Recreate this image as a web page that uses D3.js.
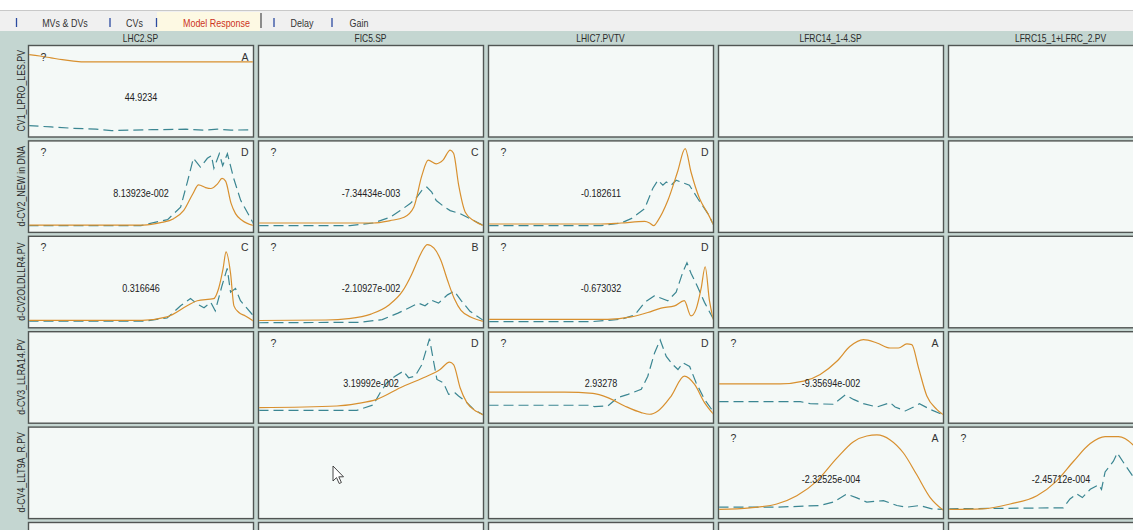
<!DOCTYPE html>
<html>
<head>
<meta charset="utf-8">
<script src="https://cdn.jsdelivr.net/npm/d3@7"></script>
<style>
  html, body { margin: 0; padding: 0; background: #ffffff; overflow: hidden; }
  svg { display: block; }
  text { font-family: "Liberation Sans", Arial, sans-serif; }
</style>
</head>
<body>
<svg id="chart" width="1133" height="530"></svg>
<script>
// ---------------- data ----------------
const tabLabels = ["MVs & DVs", "CVs", "Model Response", "Delay", "Gain"];
const colLabels = ["LHC2.SP", "FIC5.SP", "LHIC7.PVTV", "LFRC14_1-4.SP", "LFRC15_1+LFRC_2.PV"];
const rowLabels = ["CV1_LPRO_LES.PV", "d-CV2_NEW in DNA", "d-CV2OLDLLR4.PV", "d-CV3_LLRA14.PV", "d-CV4_LLT9A_R.PV", ""];

const cellRows   = [0, 1, 1, 1, 2, 2, 2, 3, 3, 3, 4, 4];
const cellCols   = [0, 0, 1, 2, 0, 1, 2, 1, 2, 3, 3, 4];
const cellValues = ["44.9234", "8.13923e-002", "-7.34434e-003", "-0.182611",
                    "0.316646", "-2.10927e-002", "-0.673032",
                    "3.19992e-002", "2.93278", "-9.35694e-002",
                    "-2.32525e-004", "-2.45712e-004"];
const cellGrades = ["A", "D", "C", "D", "C", "B", "D", "D", "D", "A", "A", ""];

// series: [time % of horizon, response % of plot range]
const orange_r1c1 = [[0,90],[5,88.5],[10,86.5],[15,84.5],[20,83],[25,82],[100,82]];
const teal_r1c1   = [[0,12.5],[10,11],[20,9.5],[30,8.5],[37,7],[45,7.5],[55,8],[70,8.5],[78,7.5],[84,8.5],[90,7.5],[100,8]];

const orange_r2c1 = [[0,8],[51,8],[58.7,10.6],[64.5,15],[69,24],[73,42],[75.6,52],[78.7,49],[81,48],[84,53],[86,59],[87.6,56],[90,32],[92,20.5],[95,13],[100,7.5]];
const teal_r2c1   = [[0,7.5],[50,7.5],[55.6,10.7],[61.8,14],[67.6,27.5],[70.6,55],[73.3,81],[76.4,71.4],[79.5,81],[81.3,84],[82.4,70],[84.8,86],[86.3,73],[88.4,86],[91.2,59],[94.3,35],[100,9.6]];

const orange_r2c2 = [[0,10.3],[51,10.3],[58.5,12.9],[64.7,16.5],[69,27.5],[72.6,62],[75.4,79],[79,75],[82,79],[85.2,90],[86.7,86.5],[89,51],[91.9,22],[95.6,12.9],[100,7.4]];
const teal_r2c2   = [[0,7.4],[40.7,7.4],[51,10.3],[58.5,16.5],[63,23.8],[67.4,31.5],[70.4,38.5],[72.6,45.8],[74.8,49.5],[77,44],[79,34.8],[82,29],[85.2,23.8],[89.6,20.5],[94,15],[100,7.4]];

const orange_r2c3 = [[0,9.2],[50,9.2],[59,10.3],[69.4,12],[71.6,10.3],[73.5,7.4],[75.3,12.9],[79.7,34.8],[84,66],[87.4,91.6],[90,66],[93.8,37],[97.5,20.5],[100,8.4]];
const teal_r2c3   = [[0,7.4],[50,7.4],[59,10.3],[63.4,15],[69.4,26],[73,48],[75.3,57],[77.5,51.6],[79,55],[81.2,51.6],[83.4,57],[85.6,55],[89.3,51.6],[93,37],[97.5,20.5],[100,8.4]];

const orange_r3c1 = [[0,8.2],[50.5,8.2],[61.6,11.9],[70.5,24],[75,29.6],[82.3,31.8],[84.5,43],[86.5,65],[87.8,83],[89.8,59.6],[91.3,24],[93.5,16.7],[96.4,13],[100,7.4]];
const teal_r3c1   = [[0,7.4],[51.8,7.4],[61.6,10.7],[67.6,24],[72,32],[75,26],[78,22],[81,27.8],[83,18.5],[86,46],[88.3,65],[89.8,39],[92,43],[94.2,29.6],[100,13]];

const orange_r3c2 = [[0,8],[30,8.5],[40,10],[50,15],[58,25],[64,40],[68,58],[71,75],[73,85],[75,91],[78,87],[81,74],[84,52],[87,32],[90,19],[95,11],[100,7]];
const teal_r3c2   = [[0,5.5],[45,6],[55,9],[62,16],[67,22],[71,27],[74,24],[77,30],[80,27],[84,36],[87,40],[90,30],[94,18],[100,8]];

const orange_r3c3 = [[0,9.3],[53,9.3],[63.4,11.9],[70.8,16.7],[76.7,21.5],[82.7,24],[87,29.6],[90,13],[92.3,20.7],[94.5,43],[96.3,66.7],[98.2,29.6],[100,8.5]];
const teal_r3c3   = [[0,6.7],[45.6,6.7],[59,9.3],[65,14],[69.4,27.8],[73.8,35],[79.7,29.6],[83.4,39],[86.4,61],[88.2,71],[90,59.6],[93,44.4],[96,27.8],[100,9.3]];

const orange_r4c2 = [[0,17],[34.8,18.8],[43.7,21.4],[52.6,26],[63,38.8],[73.3,49.7],[80.7,58.7],[84.9,66.7],[86.7,64],[89.6,38.8],[92.6,22.5],[97,12.7],[100,9]];
const teal_r4c2   = [[0,14],[43.7,14],[51,20],[54,33],[57,44],[60.7,51.4],[64.4,56.9],[66.7,49.7],[69.6,51.4],[72.6,64],[76,92.4],[77.8,67.7],[79.3,47.8],[82.2,44],[84.5,31.5],[87.4,33],[88.9,29.7],[91.9,24.2],[95.6,15.2],[100,9]];

const orange_r4c3 = [[0,34],[33.8,34],[46.4,32.6],[53,28],[60.5,18.8],[67.9,11.6],[71.6,9.8],[75.3,13.4],[81.2,29.7],[87,51.4],[91.6,42.4],[96,22.5],[100,9.8]];
const teal_r4c3   = [[0,19.6],[45.6,19.6],[47,18.1],[53,18.8],[57.5,28],[62,31.5],[67.9,37],[70.8,51.4],[73.8,76.8],[76.3,91],[79,73],[81.9,64],[84.2,58.7],[86.4,66],[89.4,62],[92.3,44],[96,26],[100,12.3]];

const orange_r4c4 = [[0,43],[27.4,43],[37.8,46],[45.2,53.3],[52.6,67.7],[58.5,84],[64.4,91.3],[70.4,87.7],[76.3,82.2],[80,82.2],[83.7,86.6],[85.9,85.9],[88.9,60.5],[92.6,29.7],[97,15.2],[100,9]];
const teal_r4c4   = [[0,23.6],[36.3,23.6],[40.7,21.4],[51,20.7],[56.3,30.8],[60,26],[64.4,21.4],[70.4,17.7],[76.3,22.5],[78.5,17.7],[83,13.4],[86.7,17.7],[89.3,21.4],[94,15.2],[100,9]];

const orange_r5c4 = [[0,10],[14,11.8],[25.9,16],[34.8,25],[43.7,41],[52.6,66],[60,84],[65.9,90.3],[70.4,91.4],[76.3,86],[82.2,71.7],[88,48.4],[94,23.3],[100,9]];
const teal_r5c4   = [[0,12.5],[25.9,12.5],[45.2,14.3],[51,18],[57,26.9],[61.5,22.6],[65.9,18],[73.3,19.7],[79.3,14.3],[83.7,12.5],[89.6,14.3],[94.8,10.7],[100,10]];

const orange_r5c5 = [[0,10],[15,10.7],[27.4,16],[39.3,25],[48,41],[55.6,62.7],[63,82],[69.6,89.6],[75.5,89.6],[82,80.6],[88,60],[94,28],[100,10]];
const teal_r5c5   = [[0,10.7],[51,11.8],[54,21.5],[57,27],[59.5,23],[63,32],[66.7,37],[68,32],[69.6,51],[73.3,62.7],[75,71.7],[78.4,59],[82,46],[90,25],[100,10]];

const modelSeries = [orange_r1c1, orange_r2c1, orange_r2c2, orange_r2c3, orange_r3c1, orange_r3c2, orange_r3c3, orange_r4c2, orange_r4c3, orange_r4c4, orange_r5c4, orange_r5c5];
const fitSeries   = [teal_r1c1, teal_r2c1, teal_r2c2, teal_r2c3, teal_r3c1, teal_r3c2, teal_r3c3, teal_r4c2, teal_r4c3, teal_r4c4, teal_r5c4, teal_r5c5];

// ---------------- layout ----------------
const W = 1133, H = 530;
const gridLeft = 28, colPitch = 230, cellW = 225;
const gridTop = 45, rowPitch = 95.4, cellH = 91.5;
const BG = "#c4d6d1", CELL = "#f4f9f7", BORDER = "#505553";
const ORANGE = "#d8902f", TEAL = "#3b8692";

// narrow-font emulation: compress rendered text horizontally
function condense(sel, f) {
  sel.each(function () {
    const w = this.getComputedTextLength();
    if (w > 0) d3.select(this).attr("textLength", w * f).attr("lengthAdjust", "spacingAndGlyphs");
  });
}

const svg = d3.select("#chart");

// background
svg.append("rect").attr("x", 0).attr("y", 0).attr("width", W).attr("height", H).attr("fill", BG);

// tab bar
svg.append("rect").attr("x", 0).attr("y", 0).attr("width", W).attr("height", 10).attr("fill", "#ffffff");
svg.append("rect").attr("x", 0).attr("y", 10).attr("width", W).attr("height", 21).attr("fill", "#f0f0f0");
svg.append("line").attr("x1", 0).attr("x2", W).attr("y1", 10.5).attr("y2", 10.5).attr("stroke", "#c9c9c9");
svg.append("rect").attr("x", 157).attr("y", 12).attr("width", 103).attr("height", 19).attr("fill", "#fdf9e3");

const tabX = [65, 134.5, 216.5, 302, 359];
const tabColor = ["#333333", "#333333", "#cc3322", "#333333", "#333333"];
svg.append("g").selectAll("text").data(tabLabels).join("text")
  .attr("x", (d, i) => tabX[i]).attr("y", 26.5)
  .attr("text-anchor", "middle").attr("font-size", 10.5)
  .attr("fill", (d, i) => tabColor[i]).text(d => d)
  .call(condense, 0.85);

const sepX = [16.5, 110, 156.5, 274, 332];
svg.append("g").selectAll("line").data(sepX).join("line")
  .attr("x1", d => d).attr("x2", d => d).attr("y1", 18).attr("y2", 27)
  .attr("stroke", "#2b4aa0").attr("stroke-width", 1.3);
svg.append("line").attr("x1", 261).attr("x2", 261).attr("y1", 13).attr("y2", 28)
  .attr("stroke", "#555555").attr("stroke-width", 1.3);

// column headers
svg.append("g").selectAll("text").data(colLabels).join("text")
  .attr("x", (d, i) => gridLeft + i * colPitch + cellW / 2).attr("y", 42)
  .attr("text-anchor", "middle").attr("font-size", 11).attr("fill", "#2a2a2a").text(d => d)
  .call(condense, 0.77);

// row labels
svg.append("g").selectAll("text").data(rowLabels).join("text")
  .attr("transform", (d, i) => `translate(24.5,${gridTop + i * rowPitch + cellH / 2}) rotate(-90)`)
  .attr("text-anchor", "middle").attr("font-size", 11).attr("fill", "#2a2a2a").text(d => d)
  .call(condense, 0.8);

// empty cell frames (all)
const nCols = colLabels.length, nRows = rowLabels.length;
const frames = [];
for (let r = 0; r < nRows; r++) for (let c = 0; c < nCols; c++) frames.push({ r, c });
const defs = svg.append("defs");
svg.append("g").selectAll("rect").data(frames).join("rect")
  .attr("x", d => gridLeft + d.c * colPitch + 0.5)
  .attr("y", d => gridTop + d.r * rowPitch + 0.5)
  .attr("width", cellW).attr("height", cellH)
  .attr("fill", CELL).attr("stroke", BORDER).attr("stroke-width", 1.4);

// filled cells
cellValues.forEach((val, k) => {
  const r = cellRows[k], c = cellCols[k];
  const left = gridLeft + c * colPitch + 0.5, top = gridTop + r * rowPitch + 0.5;
  const x = d3.scaleLinear().domain([0, 100]).range([left, left + cellW]);
  const y = d3.scaleLinear().domain([0, 100]).range([top + cellH, top]);

  const clipId = "clip" + k;
  defs.append("clipPath").attr("id", clipId).append("rect")
    .attr("x", left + 0.7).attr("y", top + 0.7).attr("width", cellW - 1.4).attr("height", cellH - 1.4);

  const g = svg.append("g");
  const lines = g.append("g").attr("clip-path", `url(#${clipId})`);

  const smooth = d3.line().x(d => x(d[0])).y(d => y(d[1])).curve(d3.curveMonotoneX);
  const jag = d3.line().x(d => x(d[0])).y(d => y(d[1])).curve(d3.curveLinear);

  lines.append("path").attr("d", jag(fitSeries[k])).attr("fill", "none")
    .attr("stroke", TEAL).attr("stroke-width", 1.2).attr("stroke-dasharray", "10,5");
  lines.append("path").attr("d", smooth(modelSeries[k])).attr("fill", "none")
    .attr("stroke", ORANGE).attr("stroke-width", 1.2);

  g.append("text").attr("x", left + 12).attr("y", top + 15)
    .attr("font-size", 10.5).attr("fill", "#333").text("?");
  if (cellGrades[k]) {
    g.append("text").attr("x", left + cellW - 5).attr("y", top + 15)
      .attr("text-anchor", "end").attr("font-size", 10.5).attr("fill", "#333").text(cellGrades[k]);
  }
  g.append("text").attr("x", left + cellW / 2).attr("y", top + cellH / 2 + 10)
    .attr("text-anchor", "middle").attr("font-size", 11).attr("fill", "#222").text(val)
    .call(condense, 0.82);
});

// mouse pointer (screen artifact)
svg.append("path")
  .attr("d", "M333,466 L333,481 L336.5,477.6 L339.2,483.5 L341.4,482.5 L338.8,476.8 L343.5,476.8 Z")
  .attr("fill", "#ffffff").attr("stroke", "#333").attr("stroke-width", 0.9);
</script>
</body>
</html>
